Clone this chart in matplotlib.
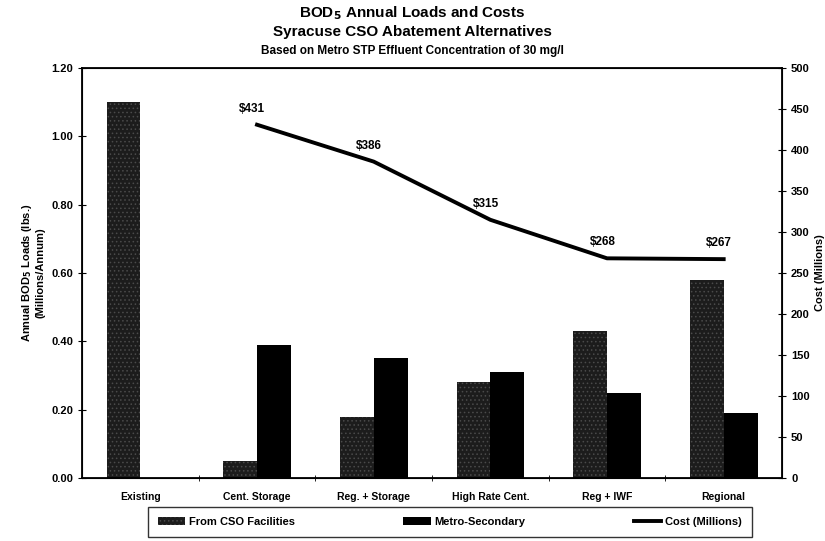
import numpy as np
import matplotlib.pyplot as plt
from matplotlib.ticker import FixedLocator

plt.rcParams['font.family'] = ['Liberation Sans', 'DejaVu Sans']
plt.rcParams['font.weight'] = 'bold'
plt.rcParams['hatch.linewidth'] = 0.6

# data
categories = ['Existing', 'Cent. Storage', 'Reg. + Storage', 'High Rate Cent.', 'Reg + IWF', 'Regional']
cso_loads = [1.10, 0.05, 0.18, 0.28, 0.43, 0.58]
metro_loads = [0.0, 0.39, 0.35, 0.31, 0.25, 0.19]
cost_cats = [1, 2, 3, 4, 5]
costs = [431, 386, 315, 268, 267]

fig = plt.figure(figsize=(8.25, 5.41), dpi=100)
ax = fig.add_axes([0.0994, 0.1165, 0.8485, 0.7575])

x = np.arange(len(categories))
w = 0.29
ax.bar(x - w / 2, cso_loads, w, color='#1c1c1c', edgecolor='#4a4a4a', hatch='....',
       linewidth=0, label='From CSO Facilities')
ax.bar(x + w / 2, metro_loads, w, color='black', linewidth=0, label='Metro-Secondary')

ax.set_xlim(-0.5, 5.5)
ax.set_ylim(0, 1.2)
ax.set_yticks(np.arange(0, 1.21, 0.2))
ax.set_yticklabels(['%.2f' % v for v in np.arange(0, 1.21, 0.2)], fontsize=8, fontweight='bold')
ax.set_xticks(x)
ax.set_xticklabels(categories, fontsize=7.5, fontweight='bold')
ax.tick_params(axis='x', which='major', length=0, pad=10)
ax.xaxis.set_minor_locator(FixedLocator(np.arange(0.5, 5.5, 1)))
ax.tick_params(axis='x', which='minor', length=4, direction='inout')
ax.tick_params(axis='y', direction='inout', length=6)
ax.set_ylabel('Annual BOD$_\\mathbf{5}$ Loads (lbs.)\n(Millions/Annum)', fontsize=8, fontweight='bold')
for s in ax.spines.values():
    s.set_linewidth(1.3)

ax2 = ax.twinx()
line, = ax2.plot(cost_cats, costs, color='black', linewidth=2.8, label='Cost (Millions)')
for cx, cv in zip(cost_cats, costs):
    ax2.text(cx - 0.04, cv + 12, '$%d' % cv, fontsize=8.5, fontweight='bold', ha='center', va='bottom')
ax2.set_ylim(0, 500)
ax2.set_yticks(np.arange(0, 501, 50))
ax2.set_yticklabels([str(v) for v in range(0, 501, 50)], fontsize=8, fontweight='bold')
ax2.tick_params(axis='y', direction='inout', length=6)
ax2.set_ylabel('Cost (Millions)', fontsize=8, fontweight='bold')

fig.text(0.5, 0.975, 'BOD$_\\mathbf{5}$ Annual Loads and Costs', ha='center', va='center', fontsize=11, fontweight='bold')
fig.text(0.5, 0.94, 'Syracuse CSO Abatement Alternatives', ha='center', va='center', fontsize=11, fontweight='bold')
fig.text(0.5, 0.905, 'Based on Metro STP Effluent Concentration of 30 mg/l', ha='center', va='center', fontsize=8.5, fontweight='bold')

handles = ax.get_legend_handles_labels()[0] + [line]
labels = ['From CSO Facilities', 'Metro-Secondary', 'Cost (Millions)']
leg = fig.legend(handles, labels, loc='upper left', bbox_to_anchor=(0.179, -0.05, 0.732, 0.113),
                 mode='expand', ncol=3, fontsize=8, frameon=True, fancybox=False, edgecolor='black',
                 handlelength=2.5, handletextpad=0.3, borderpad=0.9, borderaxespad=0)
leg.get_frame().set_linewidth(1.0)

fig.savefig('out.png', dpi=100)
